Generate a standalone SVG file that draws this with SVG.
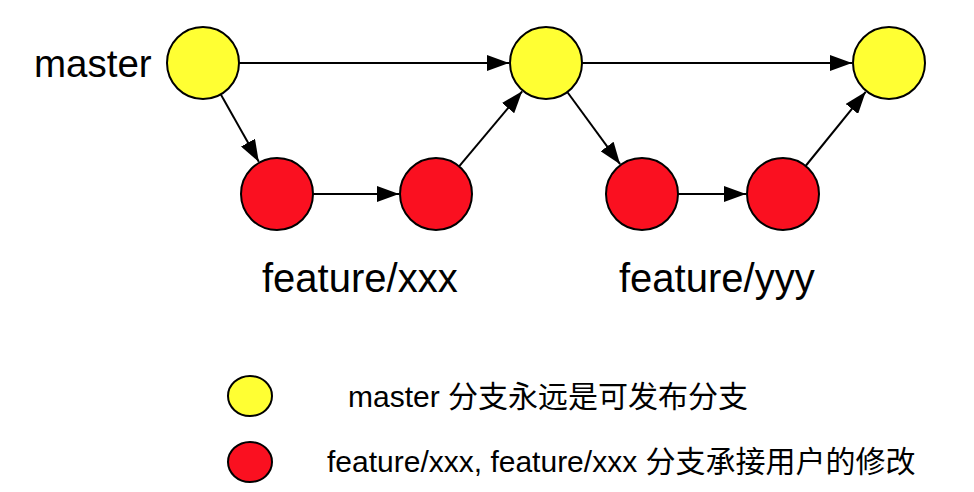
<svg xmlns="http://www.w3.org/2000/svg" width="974" height="492" viewBox="0 0 974 492">
  <style>
    .bg { fill: #ffffff; }
    .y { fill: #FFFF33; stroke: #000; stroke-width: 2; }
    .r { fill: #FA1020; stroke: #000; stroke-width: 2; }
    .e { stroke: #000; stroke-width: 2; fill: none; marker-end: url(#ah); }
    .lbl { font-family: "Liberation Sans", "Noto Sans CJK SC", sans-serif; fill: #000; }
  </style>
  <defs>
    <marker id="ah" markerUnits="userSpaceOnUse" markerWidth="22" markerHeight="16" refX="22" refY="8" orient="auto">
      <path d="M0,0 L22,8 L0,16 z" fill="#000"/>
    </marker>
  </defs>
  <rect class="bg" x="0" y="0" width="974" height="492"/>

  <g id="connectors">
    <line class="e" x1="239" y1="63" x2="509" y2="63"/>
    <line class="e" x1="220.7" y1="94.3" x2="258.8" y2="161.8"/>
    <line class="e" x1="313" y1="194" x2="399" y2="194"/>
    <line class="e" x1="459.1" y1="166.4" x2="522.2" y2="91.3"/>
    <line class="e" x1="582" y1="63" x2="852" y2="63"/>
    <line class="e" x1="567.3" y1="92" x2="620.1" y2="164.2"/>
    <line class="e" x1="678" y1="194" x2="746" y2="194"/>
    <line class="e" x1="805.6" y1="166" x2="865.7" y2="91.8"/>
  </g>

  <g id="master-label"><text class="lbl" x="34" y="77" font-size="38.5">master</text></g>
  <g id="m1"><circle class="y" cx="203" cy="63" r="36"/></g>
  <g id="m2"><circle class="y" cx="546" cy="63" r="36"/></g>
  <g id="m3"><circle class="y" cx="889" cy="63" r="36"/></g>
  <g id="fx1"><circle class="r" cx="277" cy="194" r="36"/></g>
  <g id="fx2"><circle class="r" cx="436" cy="194" r="36"/></g>
  <g id="fy1"><circle class="r" cx="642" cy="194" r="36"/></g>
  <g id="fy2"><circle class="r" cx="783" cy="194" r="36"/></g>

  <g id="fx-label"><text class="lbl" x="262" y="292" font-size="40">feature/xxx</text></g>
  <g id="fy-label"><text class="lbl" x="619" y="292" font-size="40">feature/yyy</text></g>

  <g id="legend-master">
    <ellipse class="y" cx="250" cy="396" rx="22" ry="20"/>
    <text class="lbl" x="348" y="407" font-size="30">master 分支永远是可发布分支</text>
  </g>
  <g id="legend-feature">
    <ellipse class="r" cx="250" cy="462" rx="22" ry="20"/>
    <text class="lbl" x="327" y="472" font-size="30">feature/xxx, feature/xxx 分支承接用户的修改</text>
  </g>
</svg>
